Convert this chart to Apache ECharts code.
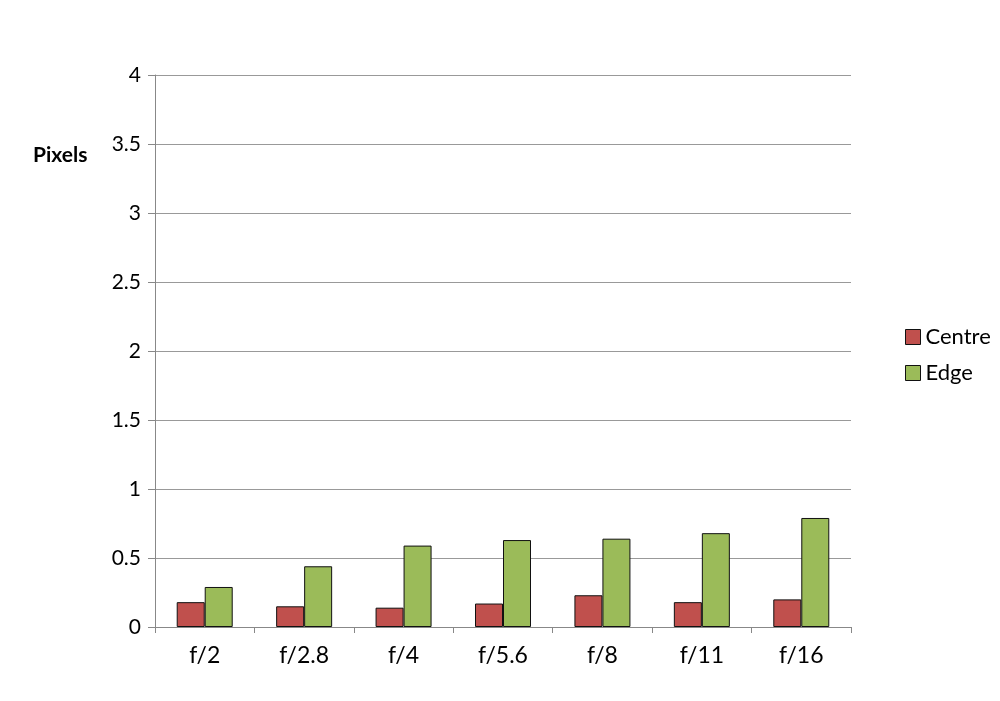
<!DOCTYPE html>
<html><head><meta charset="utf-8">
<script src="https://cdn.jsdelivr.net/npm/echarts@6/dist/echarts.min.js"></script>
<style>html,body{margin:0;padding:0;background:#fff}#c{width:1000px;height:701px}</style>
</head><body><div id="c"></div>
<script>
const categories = ['f/2','f/2.8','f/4','f/5.6','f/8','f/11','f/16'];
const centre = [0.18,0.15,0.14,0.17,0.23,0.18,0.20];
const edge = [0.29,0.44,0.59,0.63,0.64,0.68,0.79];
const yTicks = [0,0.5,1,1.5,2,2.5,3,3.5,4];
const font = 'Lato, "Open Sans", sans-serif';
const chart = echarts.init(document.getElementById('c'));
chart.setOption({
  animation:false,
  backgroundColor:'#fff',
  grid:{left:155,right:149,top:75,bottom:74,containLabel:false},
  legend:{
    orient:'vertical', left:900, top:321, itemWidth:15, itemHeight:15, itemGap:14,
    icon:'rect',
    textStyle:{fontFamily:font,fontSize:22,color:'#000'},
    itemStyle:{borderColor:'#111',borderWidth:1},
    data:['Centre','Edge']
  },
  graphic:[{type:'text',left:33,top:145,style:{text:'Pixels',font:'bold 21px '+font,fill:'#000'}}],
  xAxis:{
    type:'category', data:categories,
    axisLine:{lineStyle:{color:'#888',width:1}},
    axisTick:{show:true,length:6,lineStyle:{color:'#888'}},
    axisLabel:{fontFamily:font,fontSize:23,color:'#000',margin:17}
  },
  yAxis:{
    type:'value', min:0, max:4, interval:0.5,
    axisLine:{show:true,lineStyle:{color:'#888',width:1}},
    axisTick:{show:true,length:7,lineStyle:{color:'#888'}},
    splitLine:{lineStyle:{color:'#999',width:1}},
    axisLabel:{fontFamily:font,fontSize:21,color:'#000',margin:14,
      formatter:v=>String(v)}
  },
  series:[
    {name:'Centre',type:'bar',data:centre,barWidth:28,barGap:'0%',
     itemStyle:{color:'#c0504d',borderColor:'#111',borderWidth:1}},
    {name:'Edge',type:'bar',data:edge,barWidth:28,barGap:'0%',
     itemStyle:{color:'#9bbb59',borderColor:'#111',borderWidth:1}}
  ]
});
</script></body></html>
